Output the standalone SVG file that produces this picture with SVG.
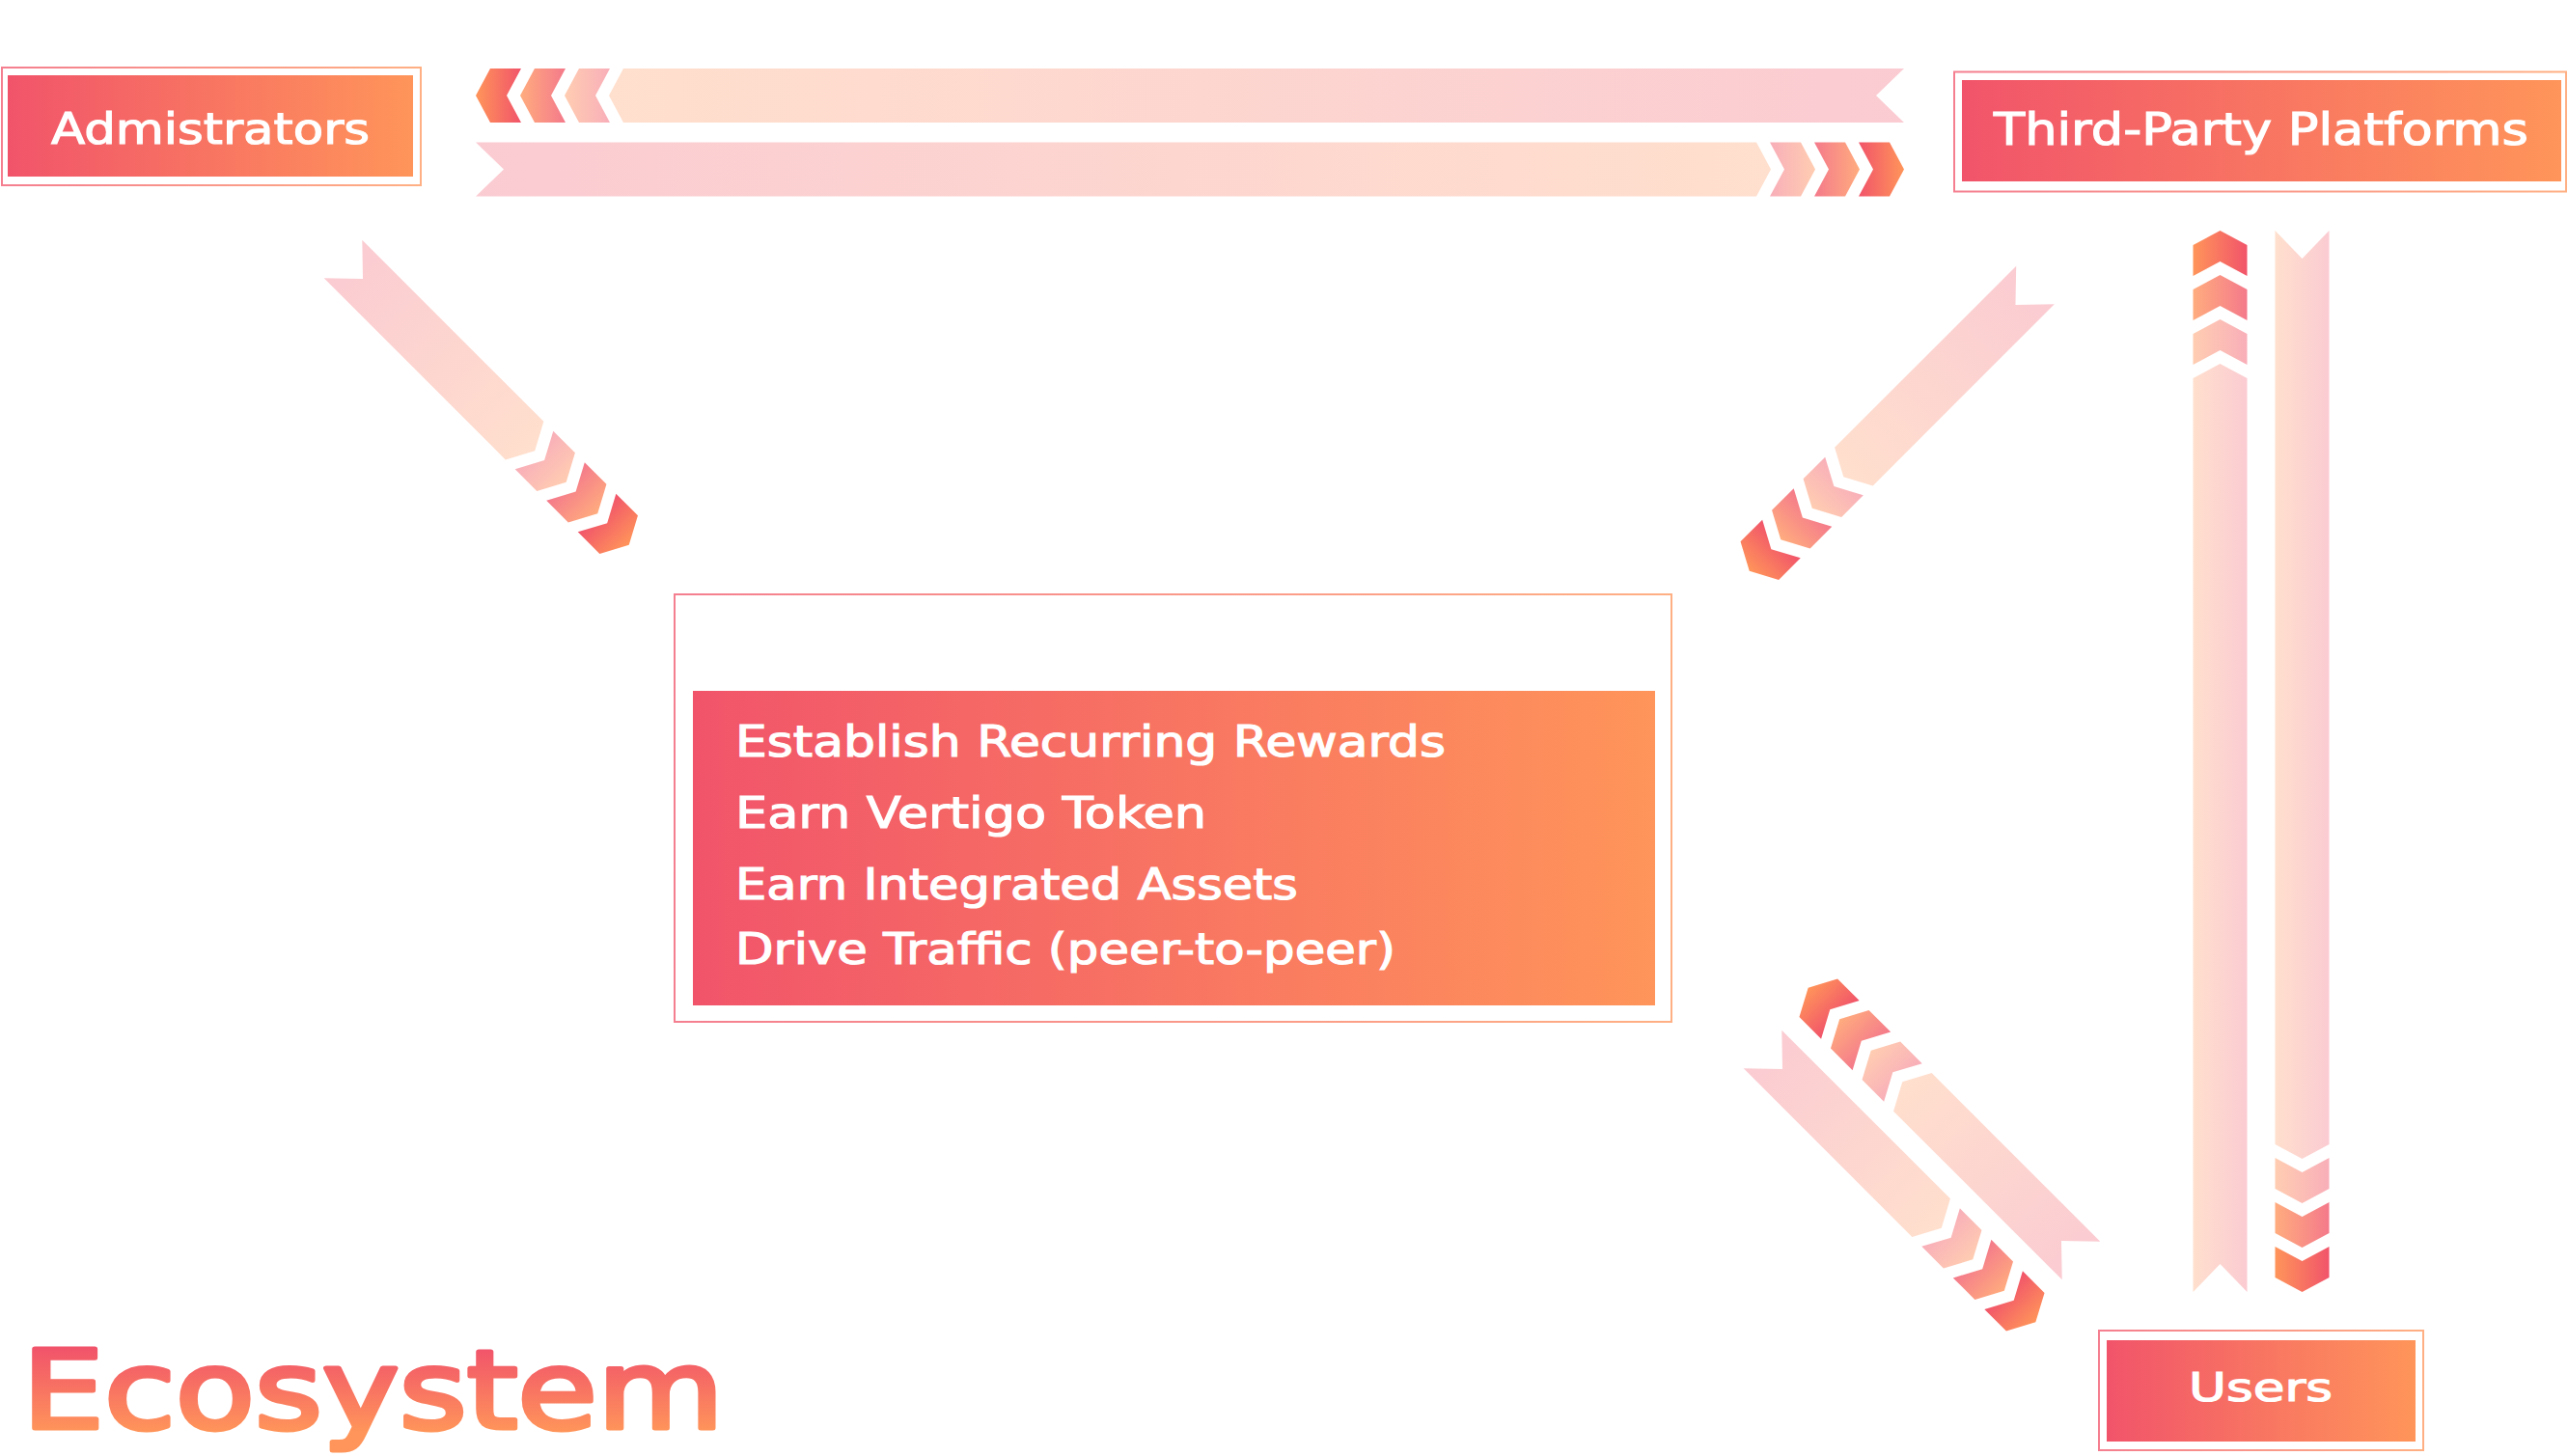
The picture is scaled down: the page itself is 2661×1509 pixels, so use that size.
<svg xmlns="http://www.w3.org/2000/svg" xmlns:xlink="http://www.w3.org/1999/xlink" width="2661" height="1509" viewBox="0 0 2661 1509">
<style>
.lbl{font-family:"DejaVu Sans","Liberation Sans",sans-serif;fill:#ffffff;stroke:#ffffff;stroke-width:1.2;}
.frame{fill:none;stroke:url(#gS);stroke-width:2;stroke-opacity:0.75;}
.fillg{fill:url(#gX);}
.b{fill-opacity:0.3;}
.c0{fill-opacity:0.47;}
.c1{fill-opacity:0.78;}
.c2{fill-opacity:1;}
</style>
<defs>
<linearGradient id="gX" x1="0" y1="0" x2="1" y2="0"><stop offset="0" stop-color="#F1546A"/><stop offset="1" stop-color="#FF955A"/></linearGradient>
<linearGradient id="gYor" x1="0" y1="0" x2="0" y2="1"><stop offset="0" stop-color="#FF955A"/><stop offset="1" stop-color="#F1546A"/></linearGradient>
<linearGradient id="gYro" x1="0" y1="0" x2="0" y2="1"><stop offset="0" stop-color="#F1546A"/><stop offset="1" stop-color="#FF955A"/></linearGradient>
<linearGradient id="gS" x1="0" y1="0" x2="1" y2="0"><stop offset="0" stop-color="#F1546A"/><stop offset="1" stop-color="#FF955A"/></linearGradient>
<linearGradient id="gT" gradientUnits="userSpaceOnUse" x1="0" y1="1398" x2="0" y2="1484"><stop offset="0" stop-color="#F1546A"/><stop offset="1" stop-color="#FF955A"/></linearGradient>
<g id="arrH">
<polygon class="b" points="0,-28 1327,-28 1342,0 1327,28 0,28 29,0"/>
<polygon class="c0" points="1341,-28 1373,-28 1388,0 1373,28 1341,28 1356,0"/>
<polygon class="c1" points="1387,-28 1419,-28 1434,0 1419,28 1387,28 1402,0"/>
<polygon class="c2" points="1433,-28 1465,-28 1480,0 1465,28 1433,28 1448,0"/>
</g>
<g id="arrD419">
<polygon class="b" points="0,-28 266,-28 281,0 266,28 0,28 29,0"/>
<polygon class="c0" points="280,-28 312,-28 327,0 312,28 280,28 295,0"/>
<polygon class="c1" points="326,-28 358,-28 373,0 358,28 326,28 341,0"/>
<polygon class="c2" points="372,-28 404,-28 419,0 404,28 372,28 387,0"/>
</g>
<g id="arrD400">
<polygon class="b" points="0,-28 247,-28 262,0 247,28 0,28 29,0"/>
<polygon class="c0" points="261,-28 293,-28 308,0 293,28 261,28 276,0"/>
<polygon class="c1" points="307,-28 339,-28 354,0 339,28 307,28 322,0"/>
<polygon class="c2" points="353,-28 385,-28 400,0 385,28 353,28 368,0"/>
</g>
<g id="arrV">
<polygon class="b" points="0,-28 947,-28 962,0 947,28 0,28 29,0"/>
<polygon class="c0" points="961,-28 993,-28 1008,0 993,28 961,28 976,0"/>
<polygon class="c1" points="1007,-28 1039,-28 1054,0 1039,28 1007,28 1022,0"/>
<polygon class="c2" points="1053,-28 1085,-28 1100,0 1085,28 1053,28 1068,0"/>
</g>
</defs>
<rect width="2661" height="1509" fill="#ffffff"/>

<g id="connectors">
<use id="tp-to-admin" xlink:href="#arrH" href="#arrH" fill="url(#gX)" transform="translate(1973,99) rotate(180)"/>
<use id="admin-to-tp" xlink:href="#arrH" href="#arrH" fill="url(#gX)" transform="translate(493,175.5)"/>
<use id="admin-to-center" xlink:href="#arrD419" href="#arrD419" fill="url(#gX)" transform="translate(355.5,268.5) rotate(45)"/>
<use id="tp-to-center" xlink:href="#arrD419" href="#arrD419" fill="url(#gX)" transform="translate(2109,295.5) rotate(135)"/>
<use id="users-to-tp" xlink:href="#arrV" href="#arrV" fill="url(#gYor)" transform="translate(2300.5,1339) rotate(-90)"/>
<use id="tp-to-users" xlink:href="#arrV" href="#arrV" fill="url(#gYro)" transform="translate(2385.5,239) rotate(90)"/>
<use id="center-to-users" xlink:href="#arrD400" href="#arrD400" fill="url(#gX)" transform="translate(1826.5,1087.5) rotate(45)"/>
<use id="users-to-center" xlink:href="#arrD400" href="#arrD400" fill="url(#gX)" transform="translate(2156.5,1306.5) rotate(225)"/>
</g>

<g id="node-admin">
<rect class="frame" x="2" y="70" width="434" height="122"/>
<rect class="fillg" x="8" y="78" width="420" height="105"/>
<text class="lbl" x="53" y="149" font-size="45" textLength="330" lengthAdjust="spacingAndGlyphs">Admistrators</text>
</g>

<g id="node-thirdparty">
<rect class="frame" x="2025" y="74.5" width="634" height="124"/>
<rect class="fillg" x="2033" y="83" width="621" height="105"/>
<text class="lbl" x="2066" y="150" font-size="46" textLength="554" lengthAdjust="spacingAndGlyphs">Third-Party Platforms</text>
</g>

<g id="node-center">
<rect class="frame" x="699" y="616" width="1033" height="443"/>
<rect class="fillg" x="718" y="716" width="997" height="326"/>
<text class="lbl" x="762" y="784" font-size="44" textLength="736" lengthAdjust="spacingAndGlyphs">Establish Recurring Rewards</text>
<text class="lbl" x="762" y="858" font-size="44" textLength="488" lengthAdjust="spacingAndGlyphs">Earn Vertigo Token</text>
<text class="lbl" x="762" y="932" font-size="44" textLength="583" lengthAdjust="spacingAndGlyphs">Earn Integrated Assets</text>
<text class="lbl" x="762" y="999" font-size="44" textLength="684" lengthAdjust="spacingAndGlyphs">Drive Traffic (peer-to-peer)</text>
</g>

<g id="node-users">
<rect class="frame" x="2175" y="1379" width="336" height="124"/>
<rect class="fillg" x="2183" y="1389" width="320" height="105"/>
<text class="lbl" x="2268" y="1452" font-size="41" textLength="149" lengthAdjust="spacingAndGlyphs">Users</text>
</g>

<g id="title">
<text x="23" y="1480" font-family="DejaVu Sans, Liberation Sans, sans-serif" font-size="113" font-weight="normal" fill="url(#gT)" stroke="url(#gT)" stroke-width="5" stroke-linejoin="round" textLength="727" lengthAdjust="spacingAndGlyphs">Ecosystem</text>
</g>
</svg>
